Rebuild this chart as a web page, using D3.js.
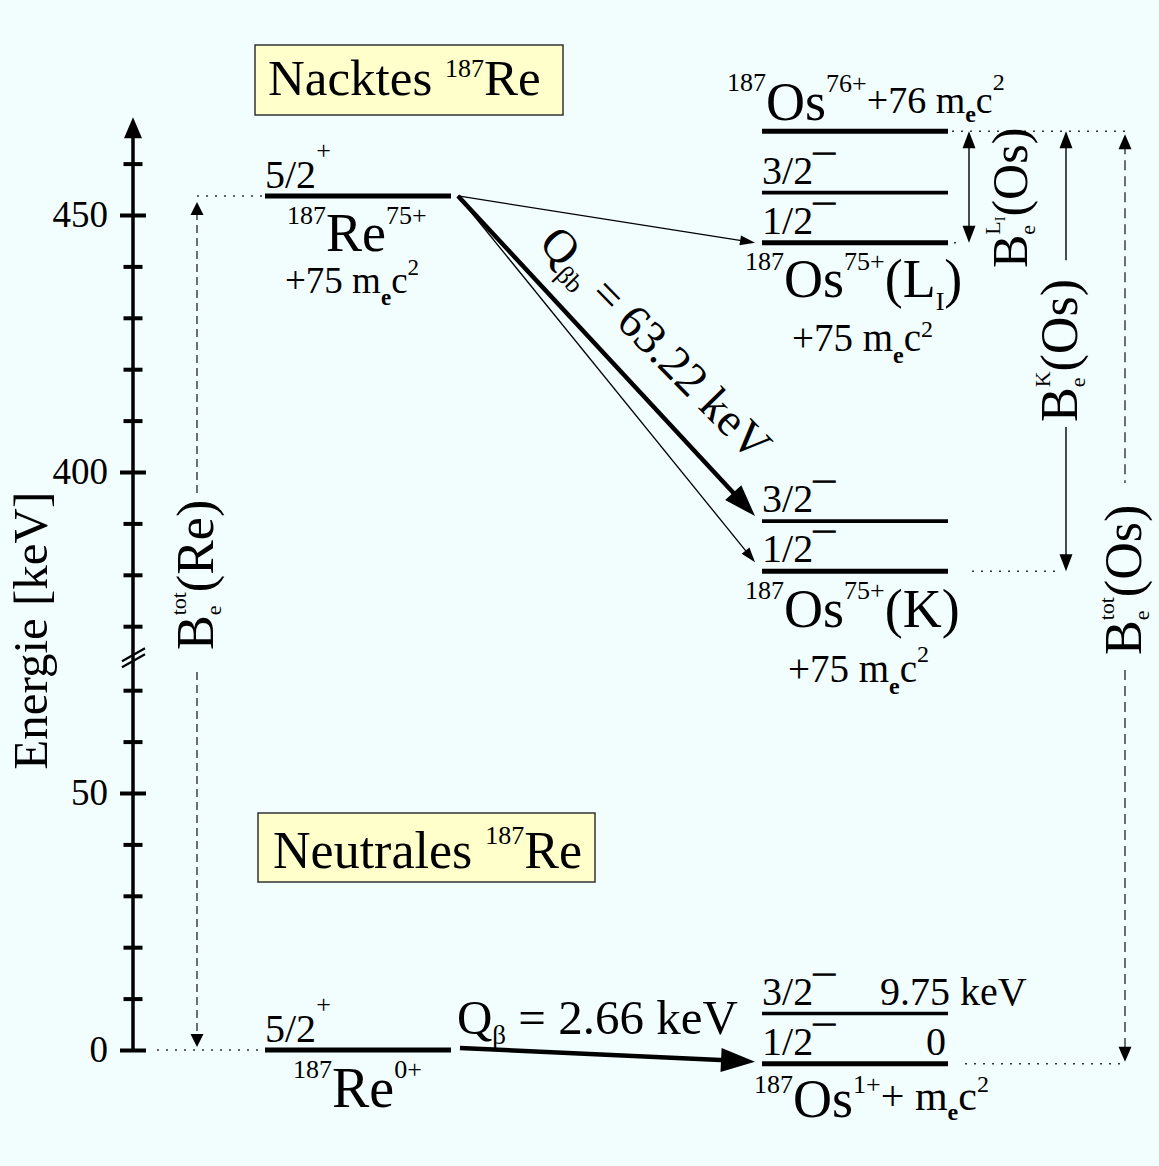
<!DOCTYPE html>
<html><head><meta charset="utf-8">
<script src="https://cdn.jsdelivr.net/npm/d3@7"></script>
<style>html,body{margin:0;padding:0;background:#F2FEFE;} svg{display:block;}</style>
</head><body><svg id="c" width="1159" height="1166"></svg>
<script>
// ---------------- DATA ----------------
const columns = ["Re", "Os"];
const majorTicks = [0, 50, 400, 450];
const minorTicks = [10, 20, 30, 40, 60, 70, 370, 380, 390, 410, 420, 430, 440, 460];
const axisBreak = [75, 365];          // keV range omitted by the axis break
const axisTop = 469;                  // keV where the axis arrow ends
const reLevels = [453.7, 0];          // 187Re75+ (bare) 5/2+, 187Re0+ (neutral) 5/2+
const osLevels = [466.3, 454.35, 444.6, 390.45, 380.7, 7.09, -2.66];
const osSpins  = ["", "3/2", "1/2", "3/2", "1/2", "3/2", "1/2"];
const transitions = [
  {from: 453.7, to: 444.6},
  {from: 453.7, to: 390.45},
  {from: 453.7, to: 380.7},
  {from: 0,     to: -2.66}
];
const qLabels = ["63.22 keV", "2.66 keV"];
const neutralOsEnergyLabels = ["9.75 keV", "0"];

// ---------------- STYLE / LAYOUT ----------------
const W = 1159, H = 1166;
const SERIF = "'Liberation Serif','Times New Roman',Times,serif";
const pxPerKeV = 5.14;
const y = d3.scaleLinear()
  .domain([0, axisBreak[0], axisBreak[1], 470])
  .range([1050, 1050 - axisBreak[0] * pxPerKeV, 472 + (400 - axisBreak[1]) * pxPerKeV, 472 - 70 * pxPerKeV]);
const x = d3.scaleBand().domain(columns).range([265, 948]).paddingInner(0.6258).paddingOuter(0);
const bw = x.bandwidth();
const xRe = x("Re"), xOs = x("Os"), xOsEnd = xOs + bw, xReEnd = xRe + bw;
const axisX = 133, reTotX = 197, lX = 969, kX = 1066, osTotX = 1125;
const transStyle = [
  {w: 1.3, len: 15, half: 5, lift: 0},
  {w: 4.5, len: 32, half: 11, lift: 5},
  {w: 1.3, len: 15, half: 5, lift: 9},
  {w: 4.5, len: 34, half: 12, lift: 2}
];

const svg = d3.select("#c");
svg.append("rect").attr("width", W).attr("height", H).attr("fill", "#F2FEFE");

function rich(parent, px, py, parts, o = {}) {
  const t = parent.append("text").attr("x", px).attr("y", py)
    .attr("font-family", SERIF).attr("fill", "#000").style("white-space", "pre");
  if (o.anchor) t.attr("text-anchor", o.anchor);
  if (o.rotate != null) t.attr("transform", `rotate(${o.rotate},${px},${py})`);
  let prev = 0;
  parts.forEach(p => {
    const sh = p.s || 0;
    const ts = t.append("tspan").attr("font-size", p.z).attr("dy", sh - prev).text(p.t);
    prev = sh;
    if (p.dx) ts.attr("dx", p.dx);
    if (p.b) ts.attr("font-weight", "bold");
    if (p.st) ts.attr("stroke", "#000").attr("stroke-width", p.st);
  });
  return t;
}
function head(g, tx, ty, ux, uy, len, half) {
  const nx = -uy, ny = ux;
  g.append("polygon").attr("fill", "#000").attr("points", [
    [tx, ty], [tx - ux * len + nx * half, ty - uy * len + ny * half], [tx - ux * len - nx * half, ty - uy * len - ny * half]
  ].map(p => p.join(",")).join(" "));
}
function arrow(g, x0, y0, x1, y1, w, len, half) {
  const dx = x1 - x0, dy = y1 - y0, L = Math.hypot(dx, dy), ux = dx / L, uy = dy / L;
  g.append("line").attr("x1", x0).attr("y1", y0).attr("x2", x1 - ux * len * 0.7).attr("y2", y1 - uy * len * 0.7)
    .attr("stroke", "#000").attr("stroke-width", w);
  head(g, x1, y1, ux, uy, len, half);
}
function vline(g, xx, ya, yb, dash, w) {
  const l = g.append("line").attr("x1", xx).attr("x2", xx).attr("y1", ya).attr("y2", yb)
    .attr("stroke", dash ? "#222" : "#000").attr("stroke-width", w);
  if (dash) l.attr("stroke-dasharray", dash);
}
function hdots(g, xa, xb, yy) {
  g.append("line").attr("x1", xa).attr("x2", xb).attr("y1", yy).attr("y2", yy)
    .attr("stroke", "#333").attr("stroke-width", 1.5).attr("stroke-dasharray", "2,7");
}

// ---------------- AXIS ----------------
const gAx = svg.append("g").attr("transform", `translate(${axisX},0)`);
gAx.append("line").attr("x1", 0).attr("x2", 0).attr("y1", y(0) + 2).attr("y2", y(axisTop) + 18)
  .attr("stroke", "#000").attr("stroke-width", 3.5);
head(gAx, 0, y(axisTop), 0, -1, 21, 9);
const major = gAx.append("g").call(d3.axisLeft(y).tickValues(majorTicks).tickSize(13).tickPadding(12).tickFormat(d3.format("d")));
major.select(".domain").remove();
major.selectAll("line").attr("x1", 13).attr("stroke-width", 4);
major.selectAll("text").attr("font-size", 37).attr("font-family", SERIF).attr("fill", "#000");
major.attr("font-family", SERIF).attr("font-size", 37);
const minor = gAx.append("g").call(d3.axisLeft(y).tickValues(minorTicks).tickSize(9.5).tickFormat(""));
minor.select(".domain").remove();
minor.selectAll("line").attr("x1", 9.5).attr("stroke-width", 4);
const yMid = (y(axisBreak[0]) + y(axisBreak[1])) / 2;
[-3, 3].forEach(o => gAx.append("line").attr("x1", -11).attr("x2", 12)
  .attr("y1", yMid + o + 6).attr("y2", yMid + o - 7).attr("stroke", "#000").attr("stroke-width", 2.2));
rich(svg, 47, (y(0) + y(axisTop)) / 2 + 47, [{t: "Energie [keV]", z: 49}], {anchor: "middle", rotate: -90});

// ---------------- BOXES ----------------
svg.append("rect").attr("x", 255).attr("y", 45).attr("width", 308).attr("height", 70)
  .attr("fill", "#FFFFCC").attr("stroke", "#333").attr("stroke-width", 1.5);
rich(svg, 268, 95, [{t: "Nacktes ", z: 51}, {t: "187", z: 26, s: -18}, {t: "Re", z: 51}]);
svg.append("rect").attr("x", 258).attr("y", 813).attr("width", 337).attr("height", 69)
  .attr("fill", "#FFFFCC").attr("stroke", "#333").attr("stroke-width", 1.5);
rich(svg, 273, 868, [{t: "Neutrales ", z: 52}, {t: "187", z: 26, s: -24}, {t: "Re", z: 52}]);

// ---------------- LEVELS ----------------
const gL = svg.append("g");
gL.selectAll("line.re").data(reLevels).join("line").attr("class", "re")
  .attr("x1", xRe).attr("x2", xReEnd).attr("y1", d => y(d)).attr("y2", d => y(d))
  .attr("stroke", "#000").attr("stroke-width", 5);
gL.selectAll("line.os").data(osLevels).join("line").attr("class", "os")
  .attr("x1", xOs).attr("x2", xOsEnd).attr("y1", d => y(d)).attr("y2", d => y(d))
  .attr("stroke", "#000").attr("stroke-width", (d, i) => osSpins[i] === "3/2" ? 3.6 : 5);

// spin labels
reLevels.forEach(e => rich(gL, xRe, y(e) - 8, [{t: "5/2", z: 40}, {t: "+", z: 26, s: -29}]));
osLevels.forEach((e, i) => {
  if (!osSpins[i]) return;
  rich(gL, xOs, y(e) - 9, [{t: osSpins[i], z: 40}, {t: "\u2014", z: 22, s: -25, b: true, st: 0.8}]);
});

// element labels
const yRe = y(reLevels[0]), yRe0 = y(reLevels[1]);
rich(gL, xRe + 22, yRe + 55, [{t: "187", z: 26, s: -27}, {t: "Re", z: 54}, {t: "75+", z: 26, s: -27}]);
rich(gL, xRe + 20, yRe + 97, [{t: "+75 m", z: 37}, {t: "e", z: 23, s: 12, b: true}, {t: "c", z: 37}, {t: "2", z: 23, s: -18}]);
rich(gL, xRe + 28, yRe0 + 57, [{t: "187", z: 26, s: -29}, {t: "Re", z: 56}, {t: "0+", z: 26, s: -29}]);

const y76 = y(osLevels[0]);
rich(gL, xOs - 35, y76 - 11, [{t: "187", z: 26, s: -29}, {t: "Os", z: 54}, {t: "76+", z: 26, s: -28},
  {t: "+76 m", z: 38, s: -7}, {t: "e", z: 24, s: 2, b: true}, {t: "c", z: 38, s: -7}, {t: "2", z: 24, s: -30}]);
const yL = y(osLevels[2]);
rich(gL, xOs - 17, yL + 54, [{t: "187", z: 26, s: -27}, {t: "Os", z: 54}, {t: "75+", z: 26, s: -27},
  {t: "(L", z: 54}, {t: "I", z: 26, s: 13}, {t: ")", z: 54}]);
rich(gL, xOs + 30, yL + 108, [{t: "+75 m", z: 39}, {t: "e", z: 24, s: 12, b: true}, {t: "c", z: 39}, {t: "2", z: 24, s: -14}]);
const yK = y(osLevels[4]);
rich(gL, xOs - 17, yK + 56, [{t: "187", z: 26, s: -28}, {t: "Os", z: 54}, {t: "75+", z: 26, s: -28}, {t: "(K)", z: 54}]);
rich(gL, xOs + 26, yK + 111, [{t: "+75 m", z: 39}, {t: "e", z: 24, s: 12, b: true}, {t: "c", z: 39}, {t: "2", z: 24, s: -20}]);
const yN3 = y(osLevels[5]), yN1 = y(osLevels[6]);
rich(gL, xOs + 118, yN3 - 9, [{t: neutralOsEnergyLabels[0], z: 40}]);
rich(gL, xOsEnd - 2, yN1 - 9, [{t: neutralOsEnergyLabels[1], z: 40}], {anchor: "end"});
rich(gL, xOs - 8, yN1 + 53, [{t: "187", z: 26, s: -24}, {t: "Os", z: 54}, {t: "1+", z: 26, s: -24},
  {t: "+ m", z: 42, s: -7}, {t: "e", z: 24, s: 3, b: true}, {t: "c", z: 42, s: -7}, {t: "2", z: 24, s: -25}]);

// ---------------- TRANSITIONS ----------------
const gT = svg.append("g");
transitions.forEach((tr, i) => {
  const st = transStyle[i];
  const x0 = xReEnd + (tr.from === 0 ? 9 : 7), y0 = y(tr.from) - (tr.from === 0 ? 2 : 0);
  arrow(gT, x0, y0, xOs - 7, y(tr.to) - st.lift, st.w, st.len, st.half);
});
{
  const x0 = xReEnd + 7, y0 = y(transitions[1].from);
  const x1 = xOs - 7, y1 = y(transitions[1].to) - transStyle[1].lift;
  const L = Math.hypot(x1 - x0, y1 - y0), ux = (x1 - x0) / L, uy = (y1 - y0) / L;
  const nx = uy, ny = -ux;
  const ox = x0 + 90 * ux + 25 * nx, oy = y0 + 90 * uy + 25 * ny;
  rich(gT, ox, oy, [{t: "Q", z: 47}, {t: "\u03B2b", z: 26, s: 10}, {t: " = " + qLabels[0], z: 47, s: 0}], {rotate: 45.5});
}
rich(gT, xReEnd + 6, y(0) - 16, [{t: "Q", z: 49}, {t: "\u03B2", z: 27, s: 10}, {t: " = " + qLabels[1], z: 49, s: 0}]);

// ---------------- BINDING ENERGY MARKERS ----------------
const gB = svg.append("g");
hdots(gB, reTotX, xRe - 3, y(reLevels[0]));
hdots(gB, axisX + 24, xRe - 3, y(reLevels[1]));
hdots(gB, xOsEnd + 4, osTotX + 5, y(osLevels[0]));
hdots(gB, xOsEnd + 6, xOsEnd + 14, y(osLevels[2]));
hdots(gB, xOsEnd + 24, kX - 4, y(osLevels[4]));
hdots(gB, xOsEnd + 17, osTotX - 3, y(osLevels[6]));

const sub = {z: 22, s: 8};
// B_e^tot(Re)
const tRe = rich(gB, 213, 650, [{t: "B", z: 52}, {t: "e", ...sub}, {t: "tot", z: 22, s: -27, dx: -9.8}, {t: "(Re)", z: 52, s: 0}], {rotate: -90});
const lRe = tRe.node().getComputedTextLength();
const reTop = y(reLevels[0]) + 6, reBot = y(reLevels[1]) - 3;
vline(gB, reTotX, reTop + 10, 650 - lRe + 3, "8,5", 1.3);
vline(gB, reTotX, 650 + 22, reBot - 10, "8,5", 1.3);
head(gB, reTotX, reTop, 0, -1, 13, 6.5);
head(gB, reTotX, reBot, 0, 1, 13, 6.5);

// B_e^LI(Os)
rich(gB, 1027, 268, [{t: "B", z: 50}, {t: "e", ...sub}, {t: "L", z: 22, s: -27, dx: -9.8}, {t: "I", z: 14, s: -22}, {t: "(Os)", z: 50, s: 0}], {rotate: -90});
const lTop = y(osLevels[0]), lBot = y(osLevels[2]);
vline(gB, lX, lTop + 12, lBot - 12, null, 1.4);
head(gB, lX, lTop, 0, -1, 17, 6.5);
head(gB, lX, lBot, 0, 1, 17, 6.5);

// B_e^K(Os)
const tK = rich(gB, 1077, 422, [{t: "B", z: 52}, {t: "e", ...sub}, {t: "K", z: 22, s: -27, dx: -9.8}, {t: "(Os)", z: 52, s: 0}], {rotate: -90});
const lK = tK.node().getComputedTextLength();
const kTop = y(osLevels[0]), kBot = y(osLevels[4]);
vline(gB, kX, kTop + 12, 422 - lK - 9, null, 1.4);
vline(gB, kX, 422 + 5, kBot - 12, null, 1.4);
head(gB, kX, kTop, 0, -1, 17, 6.5);
head(gB, kX, kBot, 0, 1, 17, 6.5);

// B_e^tot(Os)
const tOs = rich(gB, 1141, 655, [{t: "B", z: 52}, {t: "e", ...sub}, {t: "tot", z: 22, s: -27, dx: -9.8}, {t: "(Os)", z: 52, s: 0}], {rotate: -90});
const lOs = tOs.node().getComputedTextLength();
const oTop = y(osLevels[0]) + 3, oBot = y(osLevels[6]) - 2;
vline(gB, osTotX, oTop + 10, 655 - lOs - 12, "10,6", 1.3);
vline(gB, osTotX, 655 + 15, oBot - 10, "10,6", 1.3);
head(gB, osTotX, oTop, 0, -1, 15, 6.5);
head(gB, osTotX, oBot, 0, 1, 15, 6.5);
</script></body></html>
